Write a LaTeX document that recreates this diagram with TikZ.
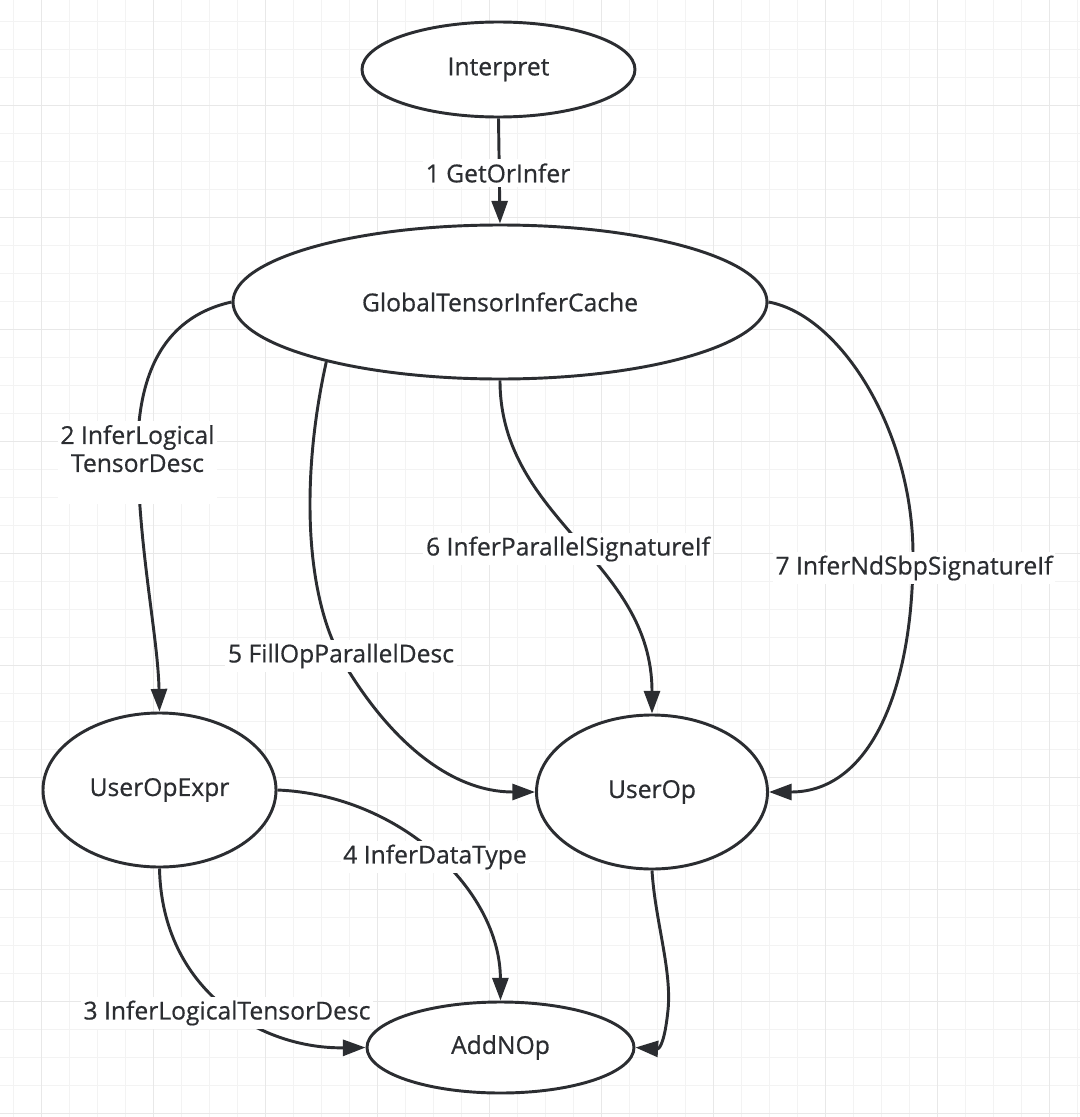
\documentclass[tikz,border=0pt]{standalone}
\usepackage{fontspec}
\setmainfont{Open Sans}[FakeBold=0.6]
\usetikzlibrary{arrows.meta,shapes.geometric}
\definecolor{ink}{HTML}{2B2D31}
\definecolor{gridminor}{HTML}{F3F3F3}
\definecolor{gridmajor}{HTML}{E8E8E8}
\begin{document}
\begin{tikzpicture}[x=0.75pt,y=-0.75pt,
  state/.style={ellipse,draw=ink,line width=2.2pt,fill=white,inner sep=0pt,
    font=\fontsize{18.5}{22}\selectfont,text=ink},
  lab/.style={fill=white,inner xsep=2pt,inner ysep=3pt,align=center,
    font=\fontsize{18.5}{21}\selectfont,text=ink},
  conn/.style={draw=ink,line width=2.2pt,-{Triangle[length=17pt,width=12pt]}}]
\useasboundingbox (0,0) rectangle (1080,1117);
\fill[white] (0,0) rectangle (1080,1117);
% grid
\foreach \i in {0,...,38} \draw[gridminor,line width=0.75pt] ({13.3+28*\i},0) -- ({13.3+28*\i},1117);
\foreach \j in {0,...,39} \draw[gridminor,line width=0.75pt] (0,{21+28*\j}) -- (1080,{21+28*\j});
\foreach \i in {0,...,9} \draw[gridmajor,line width=0.75pt] ({41.3+112*\i},0) -- ({41.3+112*\i},1117);
\foreach \j in {1,...,10} \draw[gridmajor,line width=0.75pt] (0,{-7+112*\j}) -- (1080,{-7+112*\j});
% nodes
\node[state,minimum width=204.75pt,minimum height=71.25pt] (interp) at (498.5,69.5) {Interpret};
\node[state,minimum width=400.5pt,minimum height=115.5pt] (gtic) at (500,302) {GlobalTensorInferCache};
\node[state,minimum width=174.75pt,minimum height=115.5pt] (uoe) at (159.5,790) {UserOpExpr};
\node[state,minimum width=173.25pt,minimum height=115.5pt] (uop) at (652,792) {UserOp};
\node[state,minimum width=200.25pt,minimum height=68.25pt] (add) at (500.5,1047.5) {AddNOp};
% connectors
\draw[conn] (interp.south) -- (gtic.north);
\draw[conn] (gtic.west) .. controls (160,318) and (134,380) .. (138,470) .. controls (141,560) and (158,640) .. (uoe.north);
\draw[conn] (uoe.south) .. controls (162,990) and (260,1049) .. (add.west);
\draw[conn] (uoe.east) .. controls (400,795) and (500,890) .. (add.north);
\draw[conn] (gtic.199) .. controls (300,480) and (305,600) .. (345,665) .. controls (390,740) and (450,792) .. (uop.west);
\draw[conn] (gtic.south) .. controls (500,520) and (652,560) .. (uop.north);
\draw[conn] (gtic.east) .. controls (840,315) and (913,430) .. (913,555) .. controls (913,690) and (870,792) .. (uop.east);
\draw[conn] (uop.south) .. controls (655,920) and (672,970) .. (668,1010) .. controls (665,1040) and (660,1049) .. (add.east);
% labels
\node[lab] (l1) at (498,173) {1 GetOrInfer};
\node[lab] (l2) at (137.5,462.5) {2 InferLogical\\TensorDesc\\\mbox{}};
\node[lab] (l3) at (227,1013) {3 InferLogicalTensorDesc};
\node[lab] (l4) at (435,857) {4 InferDataType};
\node[lab] (l5) at (341,656) {5 FillOpParallelDesc};
\node[lab] (l6) at (568,549) {6 InferParallelSignatureIf};
\node[lab] (l7) at (914,568) {7 InferNdSbpSignatureIf};
\end{tikzpicture}
\end{document}
